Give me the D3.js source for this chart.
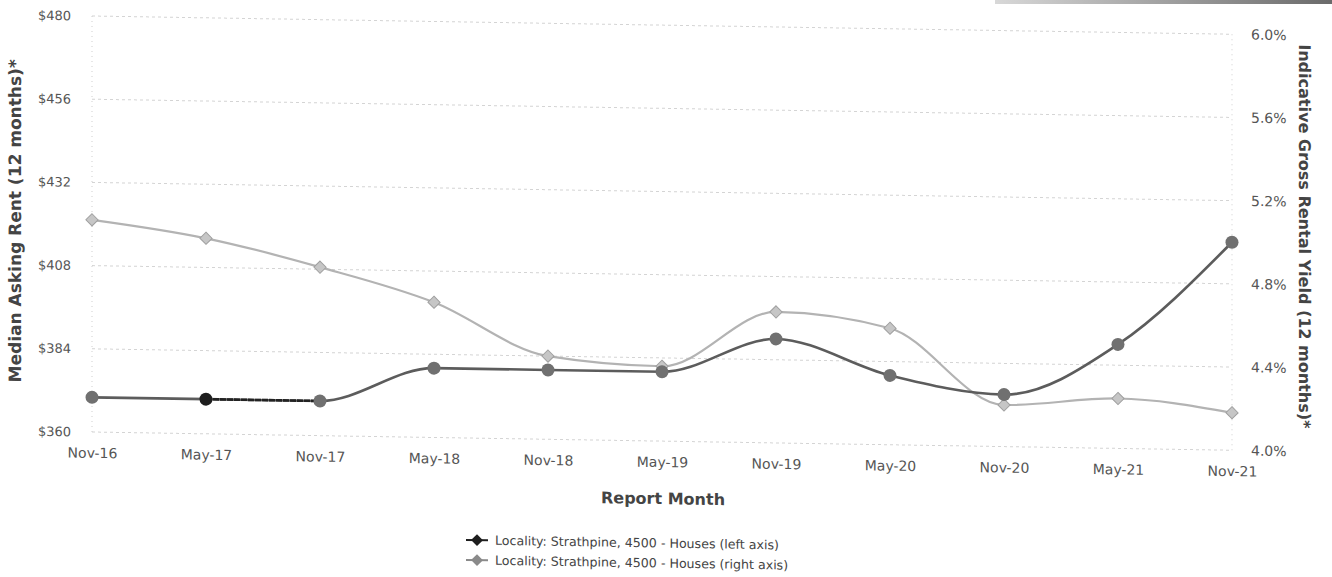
<!DOCTYPE html>
<html>
<head>
<meta charset="utf-8">
<script src="https://cdn.jsdelivr.net/npm/d3@7"></script>
<style>
  body { margin: 0; background: #fff; }
  svg { display: block; font-family: "DejaVu Sans", Verdana, sans-serif; }
</style>
</head>
<body>
<div id="chart"></div>
<script>
// chart data
var months = ["Nov-16", "May-17", "Nov-17", "May-18", "Nov-18", "May-19",
              "Nov-19", "May-20", "Nov-20", "May-21", "Nov-21"];
var rentValues  = [370, 370, 370, 380, 380, 380, 390, 380, 375, 390, 420];
var yieldValues = [5.02, 4.94, 4.81, 4.65, 4.40, 4.36, 4.63, 4.56, 4.20, 4.24, 4.18];
var rentTicks  = [360, 384, 408, 432, 456, 480];
var yieldTicks = [4.0, 4.4, 4.8, 5.2, 5.6, 6.0];
var legendNames = ["Locality: Strathpine, 4500 - Houses (left axis)",
                   "Locality: Strathpine, 4500 - Houses (right axis)"];

var W = 1332, H = 577;
var plotLeft = 92, plotRight = 1232, plotTop = 16, plotBottom = 432;
var skew = 0.016;   // the scanned page is slightly tilted: right side sits lower

var svg = d3.select("#chart").append("svg")
    .attr("width", W).attr("height", H);

// dark band at the top right corner of the scan
var grad = svg.append("defs").append("linearGradient").attr("id", "band");
grad.append("stop").attr("offset", "0%").attr("stop-color", "#d8d8d8");
grad.append("stop").attr("offset", "100%").attr("stop-color", "#6a6a6a");
svg.append("rect").attr("x", 995).attr("y", 0).attr("width", 337).attr("height", 4)
    .attr("fill", "url(#band)");

var x = d3.scalePoint().domain(months).range([plotLeft, plotRight]);
var yL = d3.scaleLinear().domain([360, 480]).range([plotBottom, plotTop]);
var yR = d3.scaleLinear().domain([4.0, 6.0]).range([plotBottom, plotTop]);

// everything sits in one tilted group, like the scan
var chart = svg.append("g")
    .attr("transform", "translate(0," + (-plotLeft * skew) + ") matrix(1," + skew + ",0,1,0,0)");

chart.selectAll(".grid").data(rentTicks).enter().append("line")
    .attr("x1", plotLeft).attr("x2", plotRight)
    .attr("y1", d => yL(d)).attr("y2", d => yL(d))
    .attr("stroke", "#d4d4d4").attr("stroke-width", 1)
    .attr("stroke-dasharray", "3,3");

[plotLeft, plotRight].forEach(function(xx) {
  chart.append("line")
      .attr("x1", xx).attr("x2", xx).attr("y1", plotTop).attr("y2", plotBottom)
      .attr("stroke", "#d0d0d0").attr("stroke-dasharray", "1,4");
});

// left axis labels
chart.append("g")
    .attr("transform", "translate(" + (plotLeft - 18) + ",0)")
    .call(d3.axisLeft(yL).tickValues(rentTicks).tickSize(0).tickFormat(d => "$" + d))
    .call(g => g.select(".domain").remove())
    .selectAll("text")
      .attr("font-size", 13).attr("fill", "#555")
      .attr("font-family", "DejaVu Sans");

// right axis labels
chart.append("g")
    .attr("transform", "translate(" + (plotRight + 16) + ",0)")
    .call(d3.axisRight(yR).tickValues(yieldTicks).tickSize(0).tickFormat(d => d.toFixed(1) + "%"))
    .call(g => g.select(".domain").remove())
    .selectAll("text")
      .attr("font-size", 14).attr("fill", "#555")
      .attr("font-family", "DejaVu Sans");

// yield series (light, right axis)
var yieldData = months.map((m, i) => ({m: m, v: yieldValues[i]}));
var yieldLine = d3.line()
    .x(d => x(d.m)).y(d => yR(d.v))
    .curve(d3.curveMonotoneX);

chart.append("path")
    .datum(yieldData)
    .attr("d", yieldLine)
    .attr("fill", "none")
    .attr("stroke", "#b3b3b3")
    .attr("stroke-width", 2.2);

// rent series (dark, left axis)
var rentData = months.map((m, i) => ({m: m, v: rentValues[i]}));
var rentLine = d3.line()
    .x(d => x(d.m)).y(d => yL(d.v))
    .curve(d3.curveMonotoneX);

chart.append("path")
    .datum(rentData)
    .attr("d", rentLine)
    .attr("fill", "none")
    .attr("stroke", "#5c5c5c")
    .attr("stroke-width", 2.6);

// the May-17 to Nov-17 stretch prints darker in the scan
chart.append("path")
    .datum(rentData.slice(1, 3))
    .attr("d", rentLine)
    .attr("fill", "none")
    .attr("stroke", "#222")
    .attr("stroke-width", 2.6)
    .attr("stroke-dasharray", "6,1");

var diamond = d3.symbol().type(d3.symbolDiamond2).size(95);

chart.selectAll(".ydot").data(yieldData).enter().append("path")
    .attr("d", diamond)
    .attr("transform", d => "translate(" + x(d.m) + "," + yR(d.v) + ")")
    .attr("fill", "#c6c6c6")
    .attr("stroke", "#a0a0a0")
    .attr("stroke-width", 1);

chart.selectAll(".rdot").data(rentData).enter().append("circle")
    .attr("cx", d => x(d.m))
    .attr("cy", d => yL(d.v))
    .attr("r", 6.5)
    .attr("fill", (d, i) => i == 1 ? "#1e1e1e" : "#707070");

// x axis labels
chart.append("g")
    .attr("transform", "translate(0," + (plotBottom + 13) + ")")
    .call(d3.axisBottom(x).tickSize(0))
    .call(g => g.select(".domain").remove())
    .selectAll("text")
      .attr("font-size", 14).attr("fill", "#555")
      .attr("font-family", "DejaVu Sans");

chart.append("text")
    .attr("x", 663).attr("y", 495)
    .attr("text-anchor", "middle")
    .attr("font-size", 16).attr("font-weight", "bold").attr("fill", "#444")
    .text("Report Month");

chart.append("text")
    .attr("transform", "translate(21,222) rotate(-90)")
    .attr("text-anchor", "middle")
    .attr("font-size", 17).attr("font-weight", "bold").attr("fill", "#444")
    .text("Median Asking Rent (12 months)*");

chart.append("text")
    .attr("transform", "translate(1299,217) rotate(90)")
    .attr("text-anchor", "middle")
    .attr("font-size", 16).attr("font-weight", "bold").attr("fill", "#444")
    .text("Indicative Gross Rental Yield (12 months)*");

// legend
var legendColors = ["#1e1e1e", "#8a8a8a"];
var legend = chart.selectAll(".legend").data(legendNames).enter().append("g")
    .attr("transform", (d, i) => "translate(477," + (534 + i * 20) + ")");

legend.append("line")
    .attr("x1", -11).attr("x2", 11)
    .attr("stroke", (d, i) => legendColors[i]).attr("stroke-width", 2);
legend.append("path")
    .attr("d", d3.symbol().type(d3.symbolDiamond2).size(90))
    .attr("fill", (d, i) => legendColors[i]);
legend.append("text")
    .attr("x", 18).attr("dy", "0.35em")
    .attr("font-size", 12.6).attr("fill", "#444")
    .text(d => d);
</script>
</body>
</html>
